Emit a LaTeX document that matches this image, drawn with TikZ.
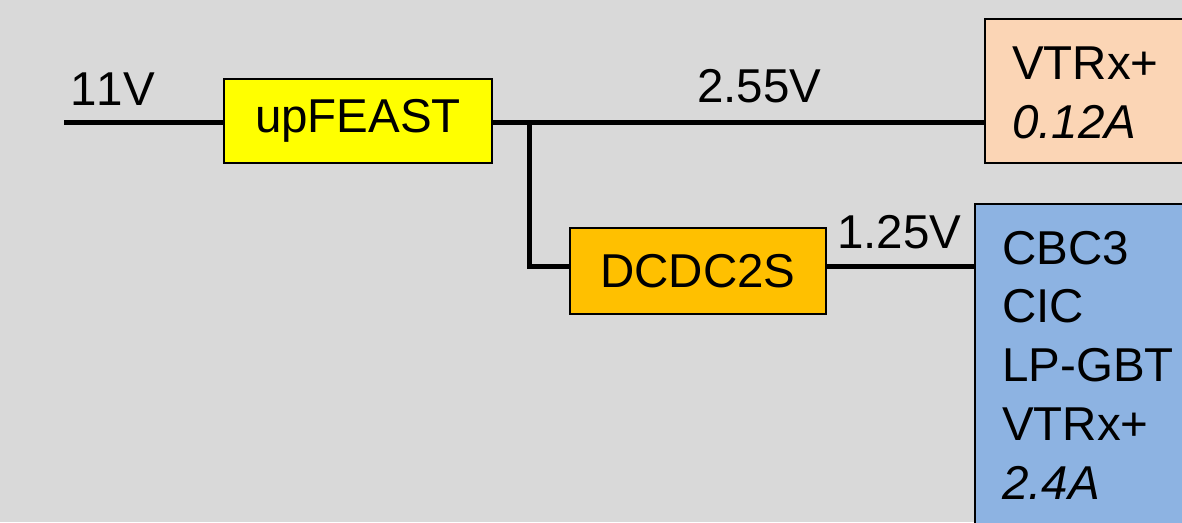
\documentclass[tikz,border=0pt]{standalone}
\usepackage{fontspec}
\setmainfont{Liberation Sans}
\definecolor{bg}{HTML}{D9D9D9}
\definecolor{peach}{HTML}{FBD5B5}
\definecolor{bluebox}{HTML}{8DB3E2}
\definecolor{yel}{HTML}{FFFF00}
\definecolor{orng}{HTML}{FFC000}
\begin{document}
\begin{tikzpicture}[x=1pt,y=-1pt,
  every node/.style={font=\fontsize{47.5}{56}\selectfont},
  box/.style={draw=black,line width=2.5pt,inner sep=0pt},
  wire/.style={line width=5pt},
  lbl/.style={anchor=base west,inner sep=0pt}]
\fill[bg] (0,0) rectangle (1182,522);
\useasboundingbox (0,0) rectangle (1182,522);
% boxes
\node[box,fill=yel,minimum width=268pt,minimum height=84pt] (up) at (358,121) {upFEAST};
\node[box,fill=orng,minimum width=256pt,minimum height=86pt] (dc) at (698,271) {DCDC2S};
\node[box,fill=peach,minimum width=230pt,minimum height=144pt] (vt) at (1100,91) {};
\node[box,fill=bluebox,minimum width=240pt,minimum height=340pt] (bl) at (1095,374) {};
% texts
\node[lbl,font=\fontsize{47.5}{56}\selectfont\addfontfeatures{Kerning=Off}] (l11) at (70,105) {11V};
\node[lbl] (l255) at (697,102) {2.55V};
\node[lbl] (l125) at (837,248) {1.25V};
\node[lbl] (t1) at (1012,79) {VTRx+};
\node[lbl,font=\fontsize{47.5}{56}\selectfont\itshape] (t2) at (1012,138) {0.12A};
\node[lbl] (b1) at (1002,264) {CBC3};
\node[lbl] (b2) at (1002,322) {CIC};
\node[lbl] (b3) at (1002,381) {LP-GBT};
\node[lbl] (b4) at (1002,440) {VTRx+};
\node[lbl,font=\fontsize{47.5}{56}\selectfont\itshape] (b5) at (1002,499) {2.4A};
% wires
\coordinate (in) at (64,122);
\coordinate (br) at (529,122);
\coordinate (dcin) at (570,266);
\coordinate (dcout) at (826,266);
\draw[wire] (in) -- (in -| up.west);
\draw[wire] (up.east |- in) -- (in -| vt.west);
\draw[wire] (br) |- (dcin);
\draw[wire] (dcout) -- (dcout -| bl.west);
\end{tikzpicture}
\end{document}
